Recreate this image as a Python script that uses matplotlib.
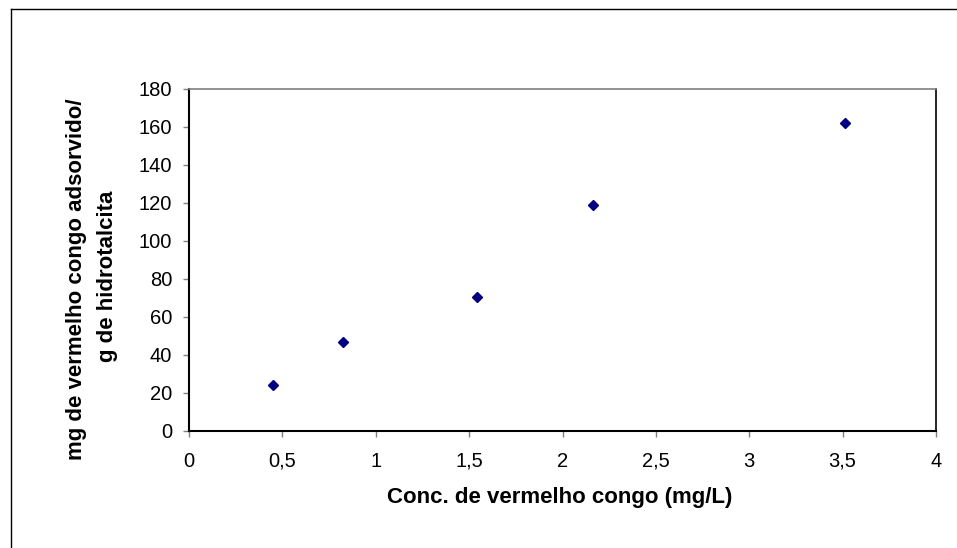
import matplotlib
matplotlib.use("Agg")
from matplotlib import pyplot as plt
from matplotlib.lines import Line2D

plt.rcParams['font.family'] = ['Liberation Sans', 'DejaVu Sans']

conc = [0.448, 0.824, 1.542, 2.163, 3.512]
adsorvido = [24.2, 47, 70.5, 119, 162]
xticks = [0, 0.5, 1, 1.5, 2, 2.5, 3, 3.5, 4]
xtick_labels = ['0', '0,5', '1', '1,5', '2', '2,5', '3', '3,5', '4']
yticks = [0, 20, 40, 60, 80, 100, 120, 140, 160, 180]

W, H = 957, 548
fig = plt.figure(figsize=(W / 100, H / 100), dpi=100)
ax = fig.add_axes([189 / W, 1 - 431 / H, (936 - 189) / W, (431 - 89) / H])

ax.plot(conc, adsorvido, linestyle='none', marker='D', markersize=5.5,
        color='#000080', clip_on=False)

ax.set_xlim(0, 4)
ax.set_ylim(0, 180)
ax.set_xticks(xticks)
ax.set_xticklabels(xtick_labels)
ax.set_yticks(yticks)
ax.tick_params(direction='out', length=4, width=1, color='#808080',
               labelsize=14.5, pad=8)
ax.tick_params(axis='x', pad=11)

for side in ['left', 'bottom']:
    ax.spines[side].set_color('black')
    ax.spines[side].set_linewidth(1.5)
ax.spines['top'].set_color('#808080')
ax.spines['right'].set_color('black')
ax.spines['top'].set_linewidth(1.2)
ax.spines['right'].set_linewidth(1.2)

fig.text(560 / W, 1 - 498 / H, 'Conc. de vermelho congo (mg/L)',
         ha='center', va='center', fontsize=16, fontweight='bold')
fig.text(77 / W, 1 - 279 / H, 'mg de vermelho congo adsorvido/',
         ha='center', va='center', rotation=90, fontsize=16, fontweight='bold')
fig.text(108 / W, 1 - 276 / H, 'g de hidrotalcita',
         ha='center', va='center', rotation=90, fontsize=16, fontweight='bold')

# outer chart border (only left and top visible in the crop)
fig.add_artist(Line2D([11 / W, 11 / W], [0, 1 - 9 / H], color='black', lw=1))
fig.add_artist(Line2D([11 / W, 1], [1 - 9 / H, 1 - 9 / H], color='black', lw=1))

fig.savefig('out.png', dpi=100)
